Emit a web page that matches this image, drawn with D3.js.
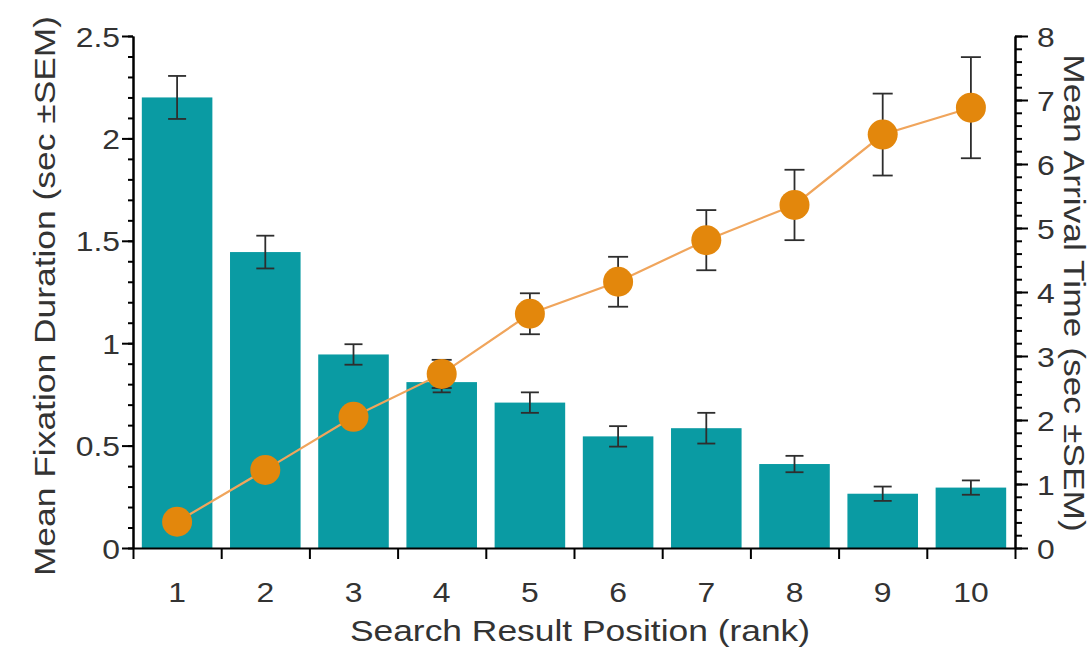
<!DOCTYPE html>
<html>
<head>
<meta charset="utf-8">
<script src="https://cdn.jsdelivr.net/npm/d3@7"></script>
<style>
  html, body { margin: 0; padding: 0; background: #fff; }
  svg text { font-family: "Liberation Sans", Arial, sans-serif; fill: #333; }
</style>
</head>
<body>
<div id="chart"></div>
<script>
// ---------------------------------------
// Data
// ---------------------------------------
const ranks = [1, 2, 3, 4, 5, 6, 7, 8, 9, 10];
const fixation    = [2.20, 1.445, 0.945, 0.81, 0.71, 0.545, 0.585, 0.41, 0.265, 0.295];
const fixationSem = [0.105, 0.08, 0.05, 0.05, 0.05, 0.05, 0.075, 0.04, 0.035, 0.035];
const arrival     = [0.41, 1.22, 2.05, 2.72, 3.66, 4.16, 4.81, 5.36, 6.46, 6.88];
const arrivalSem  = [0.08, 0.12, 0.15, 0.22, 0.32, 0.39, 0.47, 0.55, 0.64, 0.79];
const leftTicks  = [0, 0.5, 1, 1.5, 2, 2.5];
const rightTicks = [0, 1, 2, 3, 4, 5, 6, 7, 8];
const xTitle = "Search Result Position (rank)";
const yLeftTitle = "Mean Fixation Duration (sec \u00b1SEM)";
const yRightTitle = "Mean Arrival Time (sec \u00b1SEM)";

// ---------------------------------------
// Layout
// ---------------------------------------
const width = 1090, height = 648;
const margin = { top: 36, right: 75, bottom: 100, left: 133 };
const x0 = margin.left, x1 = width - margin.right;
const y0 = height - margin.bottom, y1 = margin.top;
const stretch = 1.18;   // text in the picture is drawn wide

const barColor = "#0a9ba3";
const dotColor = "#e3870c";
const lineColor = "#f0a55c";
const errColor = "#2e2e2e";

const svg = d3.select("#chart").append("svg")
  .attr("width", width)
  .attr("height", height);

// scales
const x = d3.scaleBand().domain(ranks).range([x0, x1])
  .paddingInner(0.2).paddingOuter(0.1);
const xEdge = d3.scaleLinear().domain([0, ranks.length]).range([x0, x1]);
const yL = d3.scaleLinear().domain([0, 2.5]).range([y0, y1]);
const yR = d3.scaleLinear().domain([0, 8]).range([y0, y1]);
const cx = d => x(d) + x.bandwidth() / 2;

// ---------------------------------------
// Bars + their error bars
// ---------------------------------------
svg.append("g").selectAll("rect")
  .data(ranks)
  .enter().append("rect")
  .attr("x", d => x(d))
  .attr("width", x.bandwidth())
  .attr("y", (d, i) => yL(fixation[i]))
  .attr("height", (d, i) => yL(0) - yL(fixation[i]))
  .attr("fill", barColor);

function errorBars(g, vals, sems, scale, cap) {
  const e = g.selectAll("g").data(ranks).enter().append("g")
    .attr("stroke", errColor).attr("stroke-width", 1.8);
  e.append("line")
    .attr("x1", cx).attr("x2", cx)
    .attr("y1", (d, i) => scale(vals[i] - sems[i]))
    .attr("y2", (d, i) => scale(vals[i] + sems[i]));
  [-1, 1].forEach(s => {
    e.append("line")
      .attr("x1", d => cx(d) - cap / 2).attr("x2", d => cx(d) + cap / 2)
      .attr("y1", (d, i) => scale(vals[i] + s * sems[i]))
      .attr("y2", (d, i) => scale(vals[i] + s * sems[i]));
  });
}
errorBars(svg.append("g"), fixation, fixationSem, yL, 18);

// ---------------------------------------
// Arrival time line + points
// ---------------------------------------
const line = d3.line()
  .x(d => cx(d))
  .y((d, i) => yR(arrival[i]));
svg.append("path")
  .datum(ranks)
  .attr("d", line)
  .attr("fill", "none")
  .attr("stroke", lineColor)
  .attr("stroke-width", 2.2);

errorBars(svg.append("g"), arrival, arrivalSem, yR, 20);

svg.append("g").selectAll("circle")
  .data(ranks)
  .enter().append("circle")
  .attr("cx", cx)
  .attr("cy", (d, i) => yR(arrival[i]))
  .attr("r", 15)
  .attr("fill", dotColor);

// ---------------------------------------
// Axes
// ---------------------------------------
function styleAxis(g) {
  g.select(".domain").attr("stroke", "#000").attr("stroke-width", 2);
  g.selectAll(".tick line").attr("stroke", "#000").attr("stroke-width", 2);
}
function stretchText(sel, dx, dy) {
  sel.attr("x", 0).attr("y", 0).attr("dy", null)
    .attr("transform", `translate(${dx},${dy}) scale(${stretch},1)`);
}

// left minor + major
svg.append("g").attr("transform", `translate(${x0},0)`)
  .call(d3.axisLeft(yL).tickValues(d3.range(0, 26).map(i => i / 10))
    .tickSize(5).tickSizeOuter(0).tickFormat(""))
  .call(styleAxis);
const gL = svg.append("g").attr("transform", `translate(${x0},0)`)
  .call(d3.axisLeft(yL).tickValues(leftTicks).tickSize(11).tickSizeOuter(0)
    .tickFormat(d3.format("")))
  .call(styleAxis);
gL.selectAll(".tick text").style("font-size", "27px")
  .call(stretchText, -13, 10);

// right minor + major
svg.append("g").attr("transform", `translate(${x1},0)`)
  .call(d3.axisRight(yR).tickValues(d3.range(0, 41).map(i => i / 5))
    .tickSize(7).tickSizeOuter(0).tickFormat(""))
  .call(styleAxis);
const gR = svg.append("g").attr("transform", `translate(${x1},0)`)
  .call(d3.axisRight(yR).tickValues(rightTicks).tickSize(13).tickSizeOuter(0))
  .call(styleAxis);
gR.selectAll(".tick text").style("font-size", "27px")
  .call(stretchText, 22, 10);

// bottom: ticks at band edges, labels at band centres
svg.append("g").attr("transform", `translate(0,${y0})`)
  .call(d3.axisBottom(xEdge).tickValues(d3.range(0, ranks.length + 1))
    .tickSize(11).tickSizeOuter(0).tickFormat(""))
  .call(styleAxis);
svg.append("g").selectAll("text")
  .data(ranks)
  .enter().append("text")
  .attr("text-anchor", "middle")
  .style("font-size", "27px")
  .attr("transform", d => `translate(${cx(d)},${y0 + 54}) scale(${stretch},1)`)
  .text(d => d);

// ---------------------------------------
// Titles
// ---------------------------------------
svg.append("text")
  .attr("text-anchor", "middle")
  .style("font-size", "30px")
  .attr("transform", `translate(${(x0 + x1) / 2 + 6},${height - 7}) scale(${stretch},1)`)
  .text(xTitle);

svg.append("text")
  .attr("text-anchor", "middle")
  .style("font-size", "30px")
  .attr("transform", `translate(55,296) rotate(-90) scale(${stretch},1)`)
  .text(yLeftTitle);

svg.append("text")
  .attr("text-anchor", "middle")
  .style("font-size", "30px")
  .attr("transform", `translate(1064,293) rotate(90) scale(${stretch},1)`)
  .text(yRightTitle);
</script>
</body>
</html>
